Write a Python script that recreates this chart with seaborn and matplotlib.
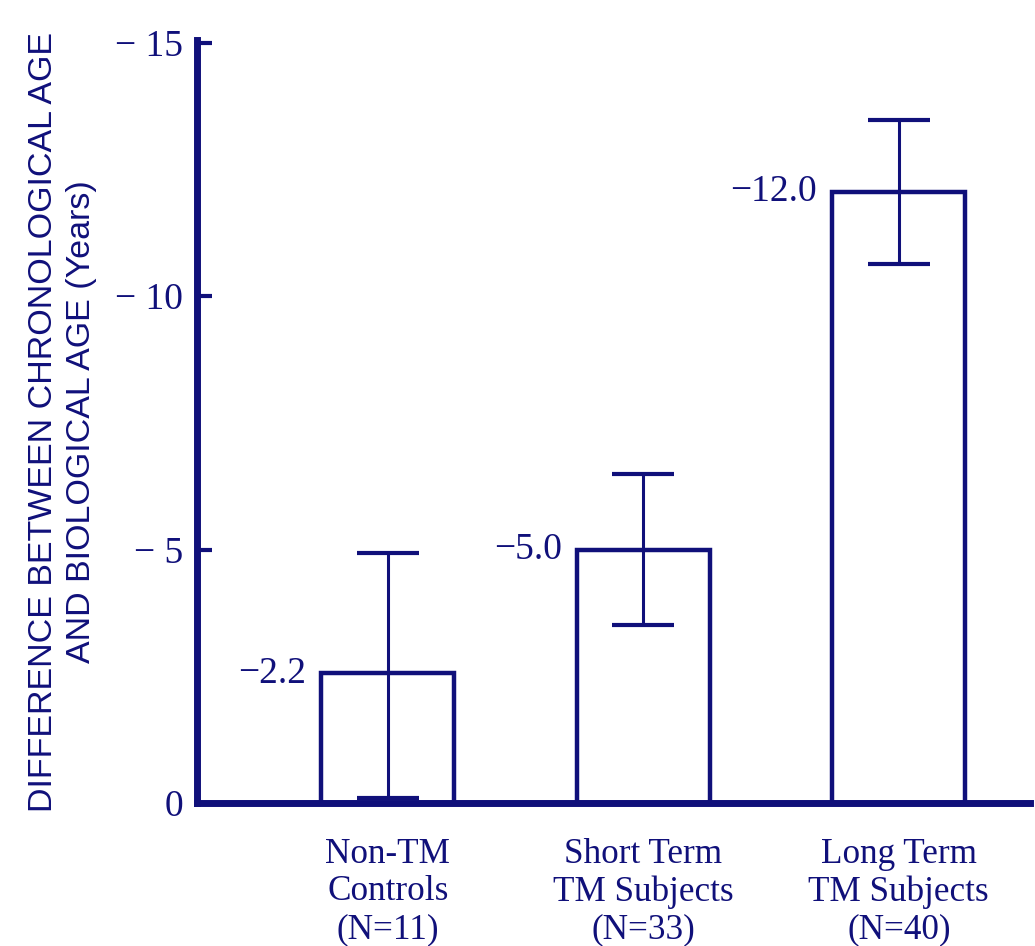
import matplotlib
matplotlib.use("Agg")
import matplotlib.pyplot as plt
import seaborn as sns
import pandas as pd

# =============================
# DATA
# =============================
groups = ["Non-TM\nControls\n(N=11)", "Short Term\nTM Subjects\n(N=33)", "Long Term\nTM Subjects\n(N=40)"]
bar_height = [-2.56, -5.0, -12.05]
err_low = [-0.18, -3.50, -10.62]
err_high = [-5.01, -6.49, -13.47]
value_labels = ["\u22122.2", "\u22125.0", "\u221212.0"]

y_ticks = [0, -5, -10, -15]
y_tick_labels = ["0", "\u2212 5", "\u2212 10", "\u2212 15"]

NAVY = "#10107a"

df = pd.DataFrame({"group": groups, "diff": bar_height})

# =============================
# STYLE
# =============================
sns.set_style("ticks")
plt.rcParams["font.family"] = ["Liberation Serif", "DejaVu Serif"]

fig = plt.figure(figsize=(10.35, 9.46), dpi=100)
ax = fig.add_axes([0.190, 0.151, 0.805, 0.8066])

sns.barplot(
    data=df, x="group", y="diff", ax=ax,
    color="white", edgecolor=NAVY, linewidth=3.2, width=0.52,
    errorbar=None, saturation=1,
)

# error bars (ends given as values, converted to distances)
for i in range(len(groups)):
    lo = abs(bar_height[i] - err_low[i])
    hi = abs(err_high[i] - bar_height[i])
    ax.errorbar(
        i, bar_height[i], yerr=[[lo], [hi]],
        fmt="none", ecolor=NAVY, elinewidth=2.2, capsize=22.5, capthick=3,
    )
    ax.annotate(
        value_labels[i], xy=(i - 0.26, bar_height[i]),
        xytext=(-11, 0), textcoords="offset points",
        ha="right", va="center", fontsize=27, color=NAVY,
    )

ax.set_ylim(0, -15.05)
ax.set_xlim(-0.748, 2.513)

ax.set_yticks(y_ticks)
ax.set_yticklabels(y_tick_labels, fontsize=27, color=NAVY)
ax.tick_params(axis="y", direction="in", length=11, width=3, color=NAVY, pad=10)
ax.tick_params(axis="x", length=0, pad=25, labelsize=25.3, labelcolor=NAVY)
for lab in ax.get_xticklabels():
    lab.set_linespacing(1.18)

ax.set_xlabel("")
ax.set_ylabel(
    "DIFFERENCE BETWEEN CHRONOLOGICAL AGE\nAND BIOLOGICAL AGE (Years)",
    fontsize=24.5, color=NAVY, family=["Liberation Sans", "DejaVu Sans"],
    linespacing=1.3, labelpad=13,
)

for side in ["top", "right"]:
    ax.spines[side].set_visible(False)
for side in ["left", "bottom"]:
    ax.spines[side].set_color(NAVY)
    ax.spines[side].set_linewidth(5)

fig.savefig("out.png", dpi=100)
